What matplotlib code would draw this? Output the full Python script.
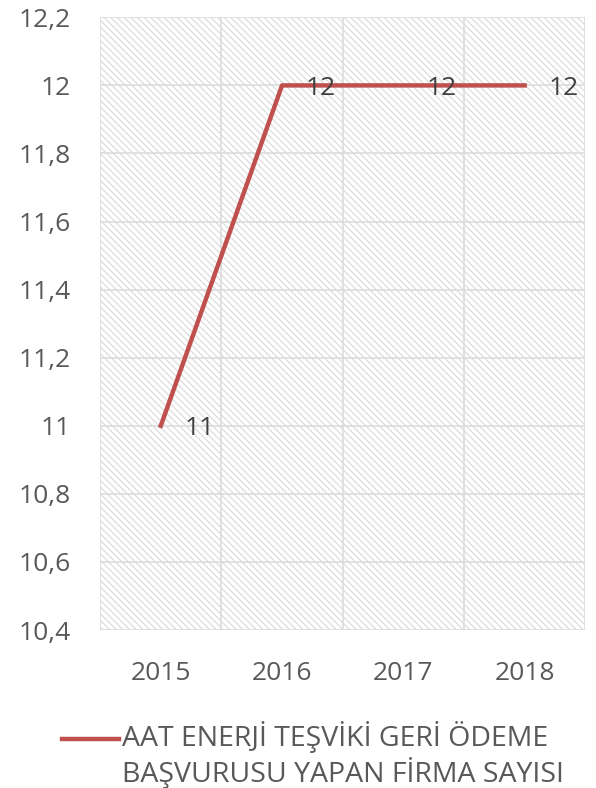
import matplotlib
matplotlib.use("Agg")
import matplotlib.pyplot as plt
from matplotlib.patches import Rectangle
from matplotlib.legend_handler import HandlerLine2D

years = ["2015", "2016", "2017", "2018"]
values = [11, 12, 12, 12]
series_name = "AAT ENERJİ TEŞVİKİ GERİ ÖDEME\nBAŞVURUSU YAPAN FİRMA SAYISI"
yticks = [10.4, 10.6, 10.8, 11.0, 11.2, 11.4, 11.6, 11.8, 12.0, 12.2]

plt.rcParams['font.family'] = ['Open Sans', 'DejaVu Sans']
plt.rcParams['hatch.color'] = '#d9d9d9'
plt.rcParams['hatch.linewidth'] = 0.8

fig = plt.figure(figsize=(5.96, 7.88), dpi=100)
ax = fig.add_axes([0.168, 0.2005, 0.814, 0.7775])

x = list(range(len(years)))
ax.set_xlim(-0.5, len(years) - 0.5)
ax.set_ylim(10.4, 12.2)

ax.add_patch(Rectangle((0, 0), 1, 1, transform=ax.transAxes, facecolor='white',
                       edgecolor='#d9d9d9', hatch='\\\\\\\\\\', linewidth=0, zorder=0))

for y in yticks:
    ax.axhline(y, color='#dcdcdc', lw=1.2, zorder=1)
for b in [i - 0.5 for i in range(len(years) + 1)]:
    ax.axvline(b, color='#dcdcdc', lw=1.2, zorder=1)

line, = ax.plot(x, values, color='#C0504D', lw=3.2, zorder=3, label=series_name)
for xi, v in zip(x, values):
    ax.annotate(f"{v}", (xi, v), xytext=(17, -2), textcoords='offset points',
                va='center', ha='left', fontsize=19, color='#404040', zorder=4)


def fmt(t):
    if abs(t - round(t)) < 1e-9:
        return f"{int(round(t))}"
    return f"{t:.1f}".replace('.', ',')


ax.set_xticks(x)
ax.set_xticklabels(years)
ax.set_yticks(yticks)
ax.set_yticklabels([fmt(t) for t in yticks])
ax.tick_params(axis='both', length=0, labelsize=19, labelcolor='#595959')
ax.tick_params(axis='x', pad=22)
ax.tick_params(axis='y', pad=21)
for s in ax.spines.values():
    s.set_visible(False)


class TopHandler(HandlerLine2D):
    def create_artists(self, legend, orig_handle, xdescent, ydescent, width,
                       height, fontsize, trans):
        artists = super().create_artists(legend, orig_handle, xdescent, ydescent,
                                         width, height, fontsize, trans)
        for a in artists:
            yd = a.get_ydata()
            a.set_ydata([v + 0.6 * fontsize for v in yd])
        return artists


leg = fig.legend(handles=[line], labels=[series_name], loc='lower center',
                 bbox_to_anchor=(0.525, -0.034), frameon=False, fontsize=20.5,
                 labelcolor='#595959', handlelength=2.0, handletextpad=0.1,
                 handler_map={line: TopHandler()})
for t in leg.get_texts():
    t.set_linespacing(1.15)

fig.savefig("out.png", dpi=100)
